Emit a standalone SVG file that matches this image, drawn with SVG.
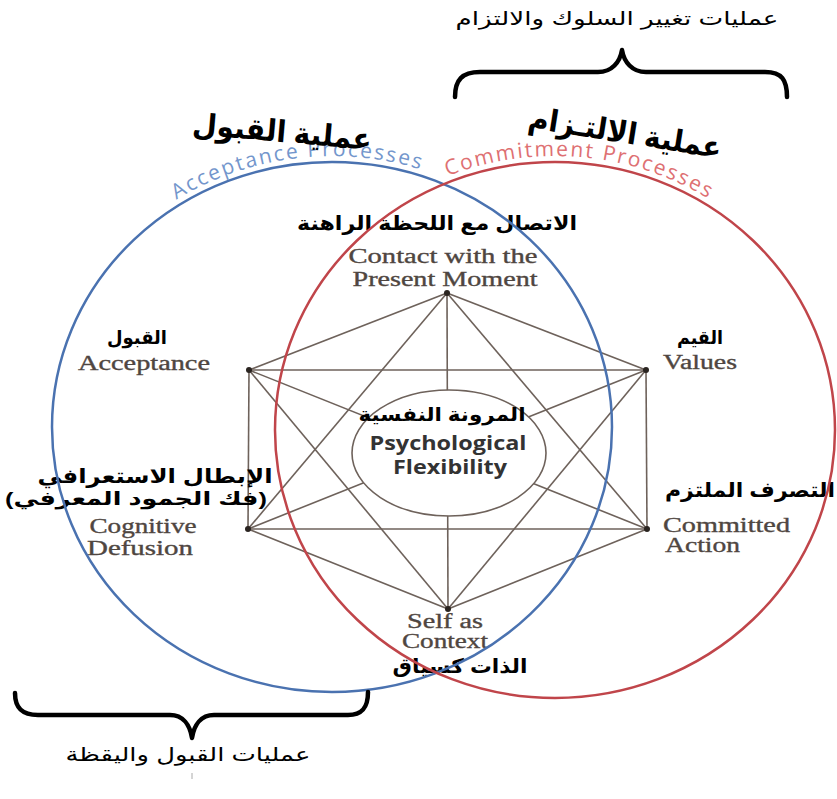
<svg xmlns="http://www.w3.org/2000/svg" width="837" height="799" viewBox="0 0 837 799">
<style>
.edge{stroke:#6e625b;stroke-width:1.6;fill:none}
.dot{fill:#2a2420}
.ar{font-family:"Liberation Sans","DejaVu Sans",sans-serif;fill:#000}
.arb{font-family:"Liberation Sans","DejaVu Sans",sans-serif;font-weight:bold;fill:#000}
.en{font-family:"Liberation Serif","DejaVu Serif",serif;fill:#4f4641;font-size:20px;stroke:#4f4641;stroke-width:0.35}
.cen{font-family:"Open Sans","Liberation Sans",sans-serif;font-weight:bold;fill:#333;font-size:19px}
.brace{stroke:#000;stroke-width:4.5;fill:none;stroke-linecap:round;stroke-linejoin:round}
.arc{font-family:"Open Sans","Liberation Sans",sans-serif;font-size:21px;letter-spacing:2px}
</style>
<defs>
<path id="blueArc" d="M 46 427 A 286 271 0 0 1 618 427"/>
<path id="redArc" d="M 269 430 A 286 274 0 0 1 841 430"/>
</defs>
<rect width="837" height="799" fill="#fff"/>

<g id="connectors">
<line class="edge" x1="447" y1="293" x2="249" y2="370"/>
<line class="edge" x1="447" y1="293" x2="646" y2="370"/>
<line class="edge" x1="447" y1="293" x2="248" y2="529"/>
<line class="edge" x1="447" y1="293" x2="647" y2="529"/>
<line class="edge" x1="447" y1="293" x2="448" y2="609"/>
<line class="edge" x1="249" y1="370" x2="646" y2="370"/>
<line class="edge" x1="249" y1="370" x2="248" y2="529"/>
<line class="edge" x1="249" y1="370" x2="647" y2="529"/>
<line class="edge" x1="249" y1="370" x2="448" y2="609"/>
<line class="edge" x1="646" y1="370" x2="248" y2="529"/>
<line class="edge" x1="646" y1="370" x2="647" y2="529"/>
<line class="edge" x1="646" y1="370" x2="448" y2="609"/>
<line class="edge" x1="248" y1="529" x2="647" y2="529"/>
<line class="edge" x1="248" y1="529" x2="448" y2="609"/>
<line class="edge" x1="647" y1="529" x2="448" y2="609"/>
</g>

<g id="node-center">
<ellipse cx="449" cy="453" rx="97" ry="63" fill="#fff" stroke="#6e625b" stroke-width="1.6"/>
<text class="arb" x="442" y="421" font-size="19" text-anchor="middle" textLength="167" lengthAdjust="spacingAndGlyphs">المرونة النفسية</text>
<text class="cen" x="448" y="450" text-anchor="middle" textLength="157" lengthAdjust="spacingAndGlyphs">Psychological</text>
<text class="cen" x="450" y="474" text-anchor="middle" textLength="114" lengthAdjust="spacingAndGlyphs">Flexibility</text>
</g>

<g id="node-present">
<circle class="dot" cx="447" cy="293" r="3"/>
<text class="arb" x="437" y="230" font-size="20" text-anchor="middle" textLength="280" lengthAdjust="spacingAndGlyphs">الاتصال مع اللحظة الراهنة</text>
<text class="en" x="443" y="263" text-anchor="middle" textLength="189" lengthAdjust="spacingAndGlyphs">Contact with the</text>
<text class="en" x="445" y="286" text-anchor="middle" textLength="185" lengthAdjust="spacingAndGlyphs">Present Moment</text>
</g>

<g id="node-acceptance">
<circle class="dot" cx="249" cy="370" r="3"/>
<text class="arb" x="137" y="344" font-size="19" text-anchor="middle" textLength="60" lengthAdjust="spacingAndGlyphs">القبول</text>
<text class="en" x="144" y="370" text-anchor="middle" textLength="132" lengthAdjust="spacingAndGlyphs">Acceptance</text>
</g>

<g id="node-values">
<circle class="dot" cx="646" cy="370" r="3"/>
<text class="arb" x="700" y="344" font-size="19" text-anchor="middle" textLength="46" lengthAdjust="spacingAndGlyphs">القيم</text>
<text class="en" x="700" y="369" text-anchor="middle" textLength="74" lengthAdjust="spacingAndGlyphs">Values</text>
</g>

<g id="node-defusion">
<circle class="dot" cx="248" cy="529" r="3"/>
<text class="arb" x="155" y="483" font-size="20" text-anchor="middle" textLength="235" lengthAdjust="spacingAndGlyphs">الإبطال الاستعرافي</text>
<text class="arb" x="136" y="505" font-size="19" text-anchor="middle" textLength="262" lengthAdjust="spacingAndGlyphs">(فك الجمود المعرفي)</text>
<text class="en" x="143" y="533" text-anchor="middle" textLength="107" lengthAdjust="spacingAndGlyphs">Cognitive</text>
<text class="en" x="140" y="555" text-anchor="middle" textLength="106" lengthAdjust="spacingAndGlyphs">Defusion</text>
</g>

<g id="node-committed">
<circle class="dot" cx="647" cy="529" r="3"/>
<text class="arb" x="750" y="497" font-size="20" text-anchor="middle" textLength="170" lengthAdjust="spacingAndGlyphs">التصرف الملتزم</text>
<text class="en" x="663" y="532" textLength="127" lengthAdjust="spacingAndGlyphs">Committed</text>
<text class="en" x="665" y="552" textLength="75" lengthAdjust="spacingAndGlyphs">Action</text>
</g>

<g id="node-self">
<circle class="dot" cx="448" cy="609" r="3"/>
<text class="en" x="445" y="628" text-anchor="middle" textLength="76" lengthAdjust="spacingAndGlyphs">Self as</text>
<text class="en" x="445" y="648" text-anchor="middle" textLength="86" lengthAdjust="spacingAndGlyphs">Context</text>
<text class="arb" x="460" y="673" font-size="20" text-anchor="middle" textLength="135" lengthAdjust="spacingAndGlyphs">الذات كسياق</text>
</g>

<g id="circle-acceptance">
<ellipse cx="332" cy="427" rx="280" ry="265" fill="none" stroke="#4a72b0" stroke-width="2.5"/>
<text class="arc" fill="#7396cc" text-anchor="middle"><textPath href="#blueArc" startOffset="401">Acceptance Processes</textPath></text>
<text class="arb" x="282" y="142" font-size="30" text-anchor="middle" textLength="180" lengthAdjust="spacingAndGlyphs" transform="rotate(5 282 134)">عملية القبول</text>
</g>

<g id="circle-commitment">
<ellipse cx="555" cy="430" rx="280" ry="268" fill="none" stroke="#c0454a" stroke-width="2.5"/>
<text class="arc" fill="#de7072" text-anchor="middle"><textPath href="#redArc" startOffset="466">Commitment Processes</textPath></text>
<text class="arb" x="625" y="143" font-size="30" text-anchor="middle" textLength="195" lengthAdjust="spacingAndGlyphs" transform="rotate(9 625 134)">عملية الالتـزام</text>
</g>

<g id="brace-top">
<path class="brace" d="M 455 97 C 455 80, 462 72, 480 72 L 598 72 C 612 72, 620 62, 622 50 C 624 62, 632 72, 646 72 L 765 72 C 782 72, 787 80, 787 97"/>
<text class="ar" x="617" y="25" font-size="19" text-anchor="middle" textLength="323" lengthAdjust="spacingAndGlyphs">عمليات تغيير السلوك والالتزام</text>
</g>

<g id="brace-bottom">
<path class="brace" d="M 15 693 C 15 708, 22 715, 38 715 L 170 715 C 183 715, 190 725, 192 738 C 194 725, 201 715, 214 715 L 348 715 C 362 715, 368 708, 368 692"/>
<text class="ar" x="188" y="761" font-size="19" text-anchor="middle" textLength="245" lengthAdjust="spacingAndGlyphs">عمليات القبول واليقظة</text>
<line x1="192" y1="773" x2="192" y2="779" stroke="#aaa" stroke-width="1"/>
</g>
</svg>
